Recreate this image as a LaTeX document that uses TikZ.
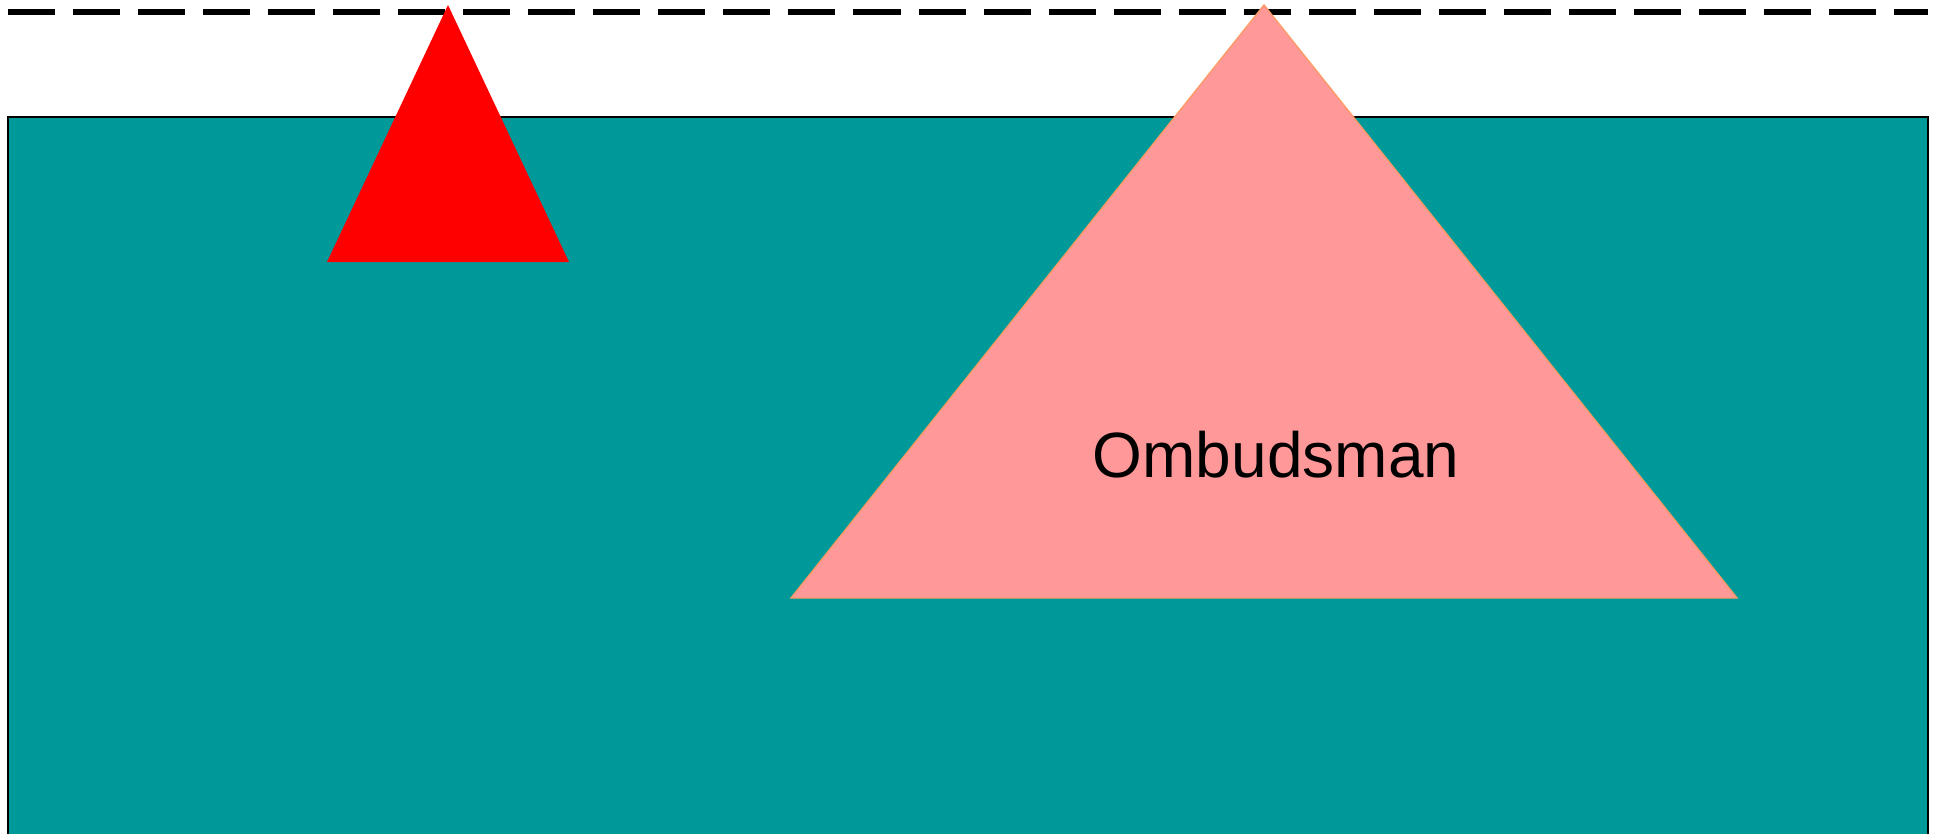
\documentclass[tikz,border=0pt]{standalone}
\usepackage{fontspec}
\setmainfont{Liberation Sans}
\usepackage{xcolor}
\definecolor{seateal}{HTML}{009999}
\definecolor{bergpink}{HTML}{FF9999}
\definecolor{bergedge}{HTML}{FF9966}
\usetikzlibrary{positioning}

\begin{document}
\begin{tikzpicture}[
    x=0.01cm, y=-0.01cm,
    surface/.style={
        draw=black,
        line width=0.45pt,
        fill=seateal
    },
    bigberg/.style={
        draw=bergedge,
        line width=0.4pt,
        fill=bergpink
    },
    smallberg/.style={
        fill=red
    },
    horizon/.style={
        line width=1.7pt,
        dash pattern=on 0.47cm off 0.18cm
    },
    label/.style={
        font=\fontsize{18.2}{22}\selectfont,
        inner sep=0pt,
        anchor=base
    }
]
\clip (0,0) rectangle (1940,833);
\useasboundingbox (0,0) rectangle (1940,833);

% Water
\draw[surface] (8,117) rectangle (1928,860);

% Dashed line at the top
\coordinate (hl) at (8,12);
\coordinate (hr) at (1928,12);
\draw[horizon] (hl) -- (hr);

% Small red triangle
\coordinate (s1) at (448,5);
\coordinate (s2) at (569,262);
\coordinate (s3) at (327,262);
\fill[smallberg] (s1) -- (s2) -- (s3) -- cycle;

% Large pink triangle
\coordinate (p1) at (1264,5);
\coordinate (p2) at (1737,598);
\coordinate (p3) at (791,598);
\draw[bigberg] (p1) -- (p2) -- (p3) -- cycle;

\node[label] (omb) at (1276,477) {Ombudsman};

\end{tikzpicture}
\end{document}
